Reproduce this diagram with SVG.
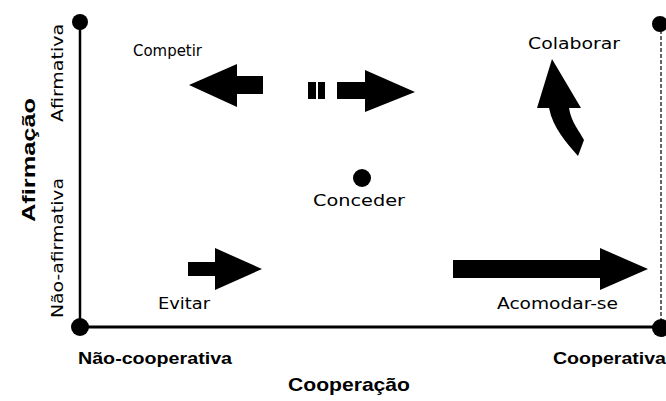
<svg xmlns="http://www.w3.org/2000/svg" width="666" height="401" viewBox="0 0 666 401">
<style>
.lbl{font-family:"DejaVu Sans","Liberation Sans",sans-serif;font-size:16px;fill:#000}
.bold{font-family:"Liberation Sans",Arial,sans-serif;font-weight:bold;fill:#000}
.arrow{fill:#000}
</style>
<rect width="666" height="401" fill="#fff"/>
<g id="axes">
  <line x1="80" y1="22" x2="80" y2="327" stroke="#000" stroke-width="2.5"/>
  <line x1="80" y1="327" x2="661" y2="327" stroke="#000" stroke-width="3"/>
  <line x1="661" y1="24" x2="661" y2="327" stroke="#000" stroke-width="1.2" stroke-dasharray="4 2"/>
  <circle cx="80" cy="22" r="8"/>
  <circle cx="80" cy="327" r="9"/>
  <circle cx="660" cy="24" r="8"/>
  <circle cx="661" cy="328" r="9"/>
</g>
<g id="axis-labels">
  <text class="bold" font-size="18" transform="translate(35,160) rotate(-90)" text-anchor="middle" textLength="124" lengthAdjust="spacingAndGlyphs">Afirmação</text>
  <text class="lbl" transform="translate(63,73) rotate(-90)" text-anchor="middle" textLength="98" lengthAdjust="spacingAndGlyphs">Afirmativa</text>
  <text class="lbl" transform="translate(63,248) rotate(-90)" text-anchor="middle" textLength="140" lengthAdjust="spacingAndGlyphs">Não-afirmativa</text>
  <text class="bold" font-size="17" x="78" y="364" textLength="154" lengthAdjust="spacingAndGlyphs">Não-cooperativa</text>
  <text class="bold" font-size="17" x="553" y="364" textLength="113" lengthAdjust="spacingAndGlyphs">Cooperativa</text>
  <text class="bold" font-size="19" x="349" y="391" text-anchor="middle" textLength="122" lengthAdjust="spacingAndGlyphs">Cooperação</text>
</g>
<g id="competir">
  <text class="lbl" x="133" y="56" textLength="69" lengthAdjust="spacingAndGlyphs">Competir</text>
  <polygon class="arrow" points="189,85 237,64 237,76 263,76 263,94 237,94 237,107"/>
</g>
<g id="competir-dashed">
  <rect class="arrow" x="308" y="82" width="8" height="17"/>
  <rect class="arrow" x="318" y="82" width="7" height="17"/>
  <polygon class="arrow" points="337,82 365,82 365,70 415,92 365,112 365,99 337,99"/>
</g>
<g id="colaborar">
  <text class="lbl" x="528" y="49" textLength="92" lengthAdjust="spacingAndGlyphs">Colaborar</text>
  <path class="arrow" d="M552,59 L581,108 L569,108 C571,122 580,132 584,140 L578,156 C566,142 553,128 549,108 L537,108 Z"/>
</g>
<g id="conceder">
  <circle cx="362" cy="178" r="9"/>
  <text class="lbl" x="359" y="206" text-anchor="middle" textLength="92" lengthAdjust="spacingAndGlyphs">Conceder</text>
</g>
<g id="evitar">
  <polygon class="arrow" points="188,262 215,262 215,248 262,269 215,290 215,276 188,276"/>
  <text class="lbl" x="158" y="309" textLength="52" lengthAdjust="spacingAndGlyphs">Evitar</text>
</g>
<g id="acomodar">
  <polygon class="arrow" points="453,260 600,260 600,248 648,269 600,290 600,278 453,278"/>
  <text class="lbl" x="497" y="309" textLength="121" lengthAdjust="spacingAndGlyphs">Acomodar-se</text>
</g>
</svg>
